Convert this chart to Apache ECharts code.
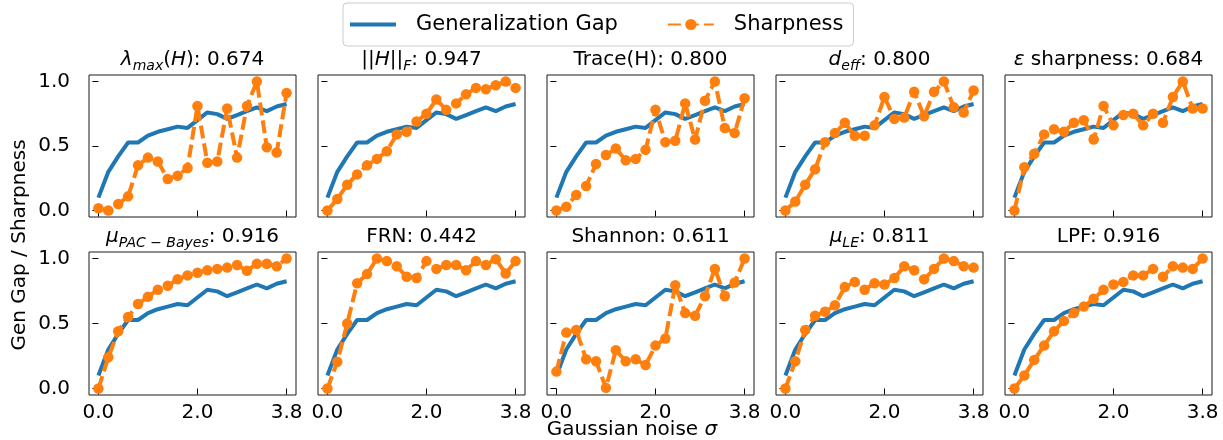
<!DOCTYPE html>
<html>
<head>
<meta charset="utf-8">
<script src="https://cdn.jsdelivr.net/npm/echarts@6/dist/echarts.min.js"></script>
<style>
  html, body { margin: 0; padding: 0; background: #fff; }
  #chart { width: 1223px; height: 440px; }
</style>
</head>
<body>
<div id="chart"></div>
<script>
// noise levels (x axis)
var sigma = [0.0, 0.2, 0.4, 0.6, 0.8, 1.0, 1.2, 1.4, 1.6, 1.8, 2.0, 2.2, 2.4, 2.6, 2.8, 3.0, 3.2, 3.4, 3.6, 3.8];
var xTicks = [0.0, 2.0, 3.8];
var yTicks = [0.0, 0.5, 1.0];

// same gap curve in every panel
var genGap = [0.10, 0.30, 0.42, 0.527, 0.527, 0.58, 0.61, 0.63, 0.65, 0.64, 0.70, 0.76, 0.747, 0.71, 0.74, 0.77, 0.80, 0.77, 0.806, 0.825];

// sharpness measures (normalised)
var lambdaMax = [0.018, 0.0, 0.05, 0.11, 0.35, 0.41, 0.38, 0.245, 0.27, 0.33, 0.81, 0.37, 0.38, 0.79, 0.41, 0.81, 1.0, 0.49, 0.45, 0.91];
var frobNorm = [0.0, 0.09, 0.20, 0.28, 0.35, 0.40, 0.46, 0.59, 0.61, 0.69, 0.75, 0.86, 0.78, 0.83, 0.90, 0.95, 0.94, 0.97, 1.0, 0.95];
var traceH = [0.0, 0.03, 0.12, 0.19, 0.36, 0.43, 0.48, 0.39, 0.40, 0.47, 0.78, 0.53, 0.54, 0.83, 0.55, 0.85, 1.0, 0.64, 0.60, 0.87];
var dEff = [0.0, 0.07, 0.20, 0.32, 0.53, 0.60, 0.68, 0.58, 0.58, 0.66, 0.88, 0.71, 0.72, 0.92, 0.73, 0.92, 1.0, 0.80, 0.76, 0.93];
var epsSharp = [0.0, 0.335, 0.44, 0.59, 0.63, 0.61, 0.68, 0.70, 0.55, 0.81, 0.66, 0.74, 0.75, 0.66, 0.75, 0.68, 0.88, 1.0, 0.79, 0.79];
var pacBayes = [0.0, 0.24, 0.44, 0.55, 0.65, 0.705, 0.76, 0.79, 0.84, 0.87, 0.89, 0.91, 0.92, 0.93, 0.95, 0.905, 0.96, 0.96, 0.94, 1.0];
var frn = [0.0, 0.205, 0.50, 0.81, 0.88, 1.0, 0.98, 0.94, 0.86, 0.85, 0.98, 0.92, 0.95, 0.95, 0.91, 0.98, 0.95, 0.995, 0.885, 0.98];
var shannon = [0.13, 0.43, 0.45, 0.225, 0.21, 0.005, 0.295, 0.21, 0.225, 0.18, 0.33, 0.385, 0.795, 0.58, 0.56, 0.71, 0.92, 0.71, 0.815, 1.0];
var muLE = [0.0, 0.21, 0.45, 0.56, 0.59, 0.64, 0.78, 0.82, 0.76, 0.81, 0.80, 0.85, 0.94, 0.91, 0.84, 0.92, 1.0, 0.98, 0.94, 0.93];
var lpf = [0.0, 0.10, 0.22, 0.33, 0.44, 0.52, 0.58, 0.63, 0.69, 0.76, 0.80, 0.82, 0.87, 0.87, 0.92, 0.86, 0.94, 0.93, 0.92, 1.0];

var scores = ['0.674', '0.947', '0.800', '0.800', '0.684', '0.916', '0.442', '0.611', '0.811', '0.916'];
var labels = [
    '{i|λ}{s|max}{n|(}{i|H}{n|)',
    '{n|||}{i|H}{n|||}{s|F}{n|',
    '{n|Trace(H)',
    '{i|d}{s|eff}{n|',
    '{i|ε}{n| sharpness',
    '{i|μ}{s|PAC − Bayes}{n|',
    '{n|FRN',
    '{n|Shannon',
    '{i|μ}{s|LE}{n|',
    '{n|LPF'
];
var panels = [lambdaMax, frobNorm, traceH, dEff, epsSharp, pacBayes, frn, shannon, muLE, lpf];

var FONT = 'DejaVu Sans';
var blue = '#1f77b4';
var orange = '#ff7f0e';

var lefts = [89, 318, 547, 776, 1005];
var tops = [75, 252];
var heights = [142, 143];
var W = 207;

var grids = [], xAxes = [], yAxes = [], series = [], titles = [];

var richStyles = {
    n: { fontFamily: FONT, fontSize: 20, fontWeight: 'normal', color: '#000', lineHeight: 26 },
    i: { fontFamily: FONT, fontSize: 20, fontWeight: 'normal', fontStyle: 'italic', color: '#000', lineHeight: 26 },
    s: { fontFamily: FONT, fontSize: 14, fontWeight: 'normal', fontStyle: 'italic', color: '#000', lineHeight: 14, verticalAlign: 'bottom' }
};

function pairs(ys) {
    return sigma.map(function (x, k) { return [x, ys[k]]; });
}

panels.forEach(function (vals, i) {
    var row = Math.floor(i / 5), col = i % 5;
    grids.push({
        left: lefts[col], top: tops[row], width: W, height: heights[row],
        show: true, borderColor: '#1a1a1a', borderWidth: 1, backgroundColor: 'transparent'
    });
    xAxes.push({
        type: 'value', gridIndex: i, min: -0.19, max: 3.99,
        splitLine: { show: false },
        axisLine: { show: false },
        axisTick: { show: true, customValues: xTicks, length: 6, lineStyle: { color: '#000', width: 1 } },
        axisLabel: {
            show: row === 1, customValues: xTicks, margin: 8,
            fontFamily: FONT, fontSize: 20, color: '#000',
            formatter: function (v) { return v.toFixed(1); }
        }
    });
    yAxes.push({
        type: 'value', gridIndex: i, min: -0.05, max: 1.05,
        splitLine: { show: false },
        axisLine: { show: false },
        axisTick: { show: true, customValues: yTicks, length: 6, lineStyle: { color: '#000', width: 1 } },
        axisLabel: {
            show: col === 0, customValues: yTicks, margin: 19,
            fontFamily: FONT, fontSize: 20, color: '#000',
            formatter: function (v) { return v.toFixed(1); }
        }
    });
    series.push({
        name: 'Generalization Gap', type: 'line', xAxisIndex: i, yAxisIndex: i,
        data: pairs(genGap), symbol: 'none', z: 2,
        lineStyle: { color: blue, width: 4 }, itemStyle: { color: blue }
    });
    series.push({
        name: 'Sharpness', type: 'line', xAxisIndex: i, yAxisIndex: i,
        data: pairs(vals), symbol: 'circle', symbolSize: 10.5, z: 3,
        lineStyle: { color: orange, width: 4, type: [13, 5] }, itemStyle: { color: orange }
    });
    titles.push({
        text: labels[i] + ': ' + scores[i] + '}',
        left: lefts[col] + W / 2, top: tops[row] - 28, textAlign: 'center', padding: 0,
        textStyle: { fontFamily: FONT, fontSize: 20, fontWeight: 'normal', color: '#000', rich: richStyles }
    });
});

titles.push({
    text: '{n|Gaussian noise }{i|σ}',
    left: 632, top: 417, textAlign: 'center', padding: 0,
    textStyle: { fontFamily: FONT, fontSize: 20, fontWeight: 'normal', color: '#000', rich: richStyles }
});

var chart = echarts.init(document.getElementById('chart'), null, { renderer: 'canvas' });
chart.setOption({
    animation: false,
    backgroundColor: '#fff',
    title: titles,
    legend: {
        data: [
            { name: 'Generalization Gap', icon: 'path://M0,0L46,0L46,4L0,4Z', itemStyle: { color: blue } },
            { name: 'Sharpness' }
        ],
        left: 343, top: 3,
        padding: [11, 10, 11, 7],
        borderColor: '#cccccc', borderWidth: 1, borderRadius: 4,
        itemWidth: 46, itemHeight: 14, itemGap: 49,
        textStyle: { fontFamily: FONT, fontSize: 21, color: '#000', padding: [0, 0, 0, 15] }
    },
    graphic: [{
        type: 'text', x: 20, y: 245, rotation: Math.PI / 2,
        style: {
            text: 'Gen Gap / Sharpness', fontFamily: FONT, fontSize: 20, fill: '#000',
            align: 'center', verticalAlign: 'middle', textAlign: 'center', textVerticalAlign: 'middle'
        }
    }],
    grid: grids,
    xAxis: xAxes,
    yAxis: yAxes,
    series: series
});
</script>
</body>
</html>
